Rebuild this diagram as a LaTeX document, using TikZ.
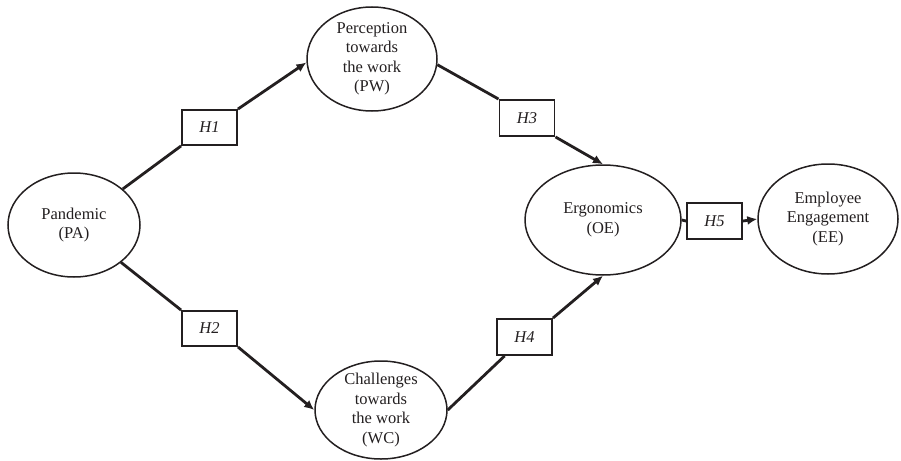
\documentclass[tikz,border=0pt]{standalone}
\usepackage{fontspec}
\setmainfont{Liberation Serif}
\usetikzlibrary{arrows.meta,shapes.geometric}
\definecolor{ink}{RGB}{35,31,32}
\tikzset{
  construct/.style={ellipse, draw=ink, line width=1.5pt, inner sep=-6pt, align=center,
    text=ink, font=\fontsize{16.5}{19.5}\selectfont},
  hbox/.style={rectangle, draw=ink, line width=1.9pt, fill=white, inner sep=0pt,
    minimum width=55pt, minimum height=36pt, text=ink, font=\fontsize{16.5}{19}\selectfont\itshape},
  link/.style={draw=ink, line width=2.8pt},
  arrowlink/.style={link, -{Latex[length=10pt,width=9pt]}}
}
\begin{document}
\begin{tikzpicture}[x=1pt,y=-1pt]
\useasboundingbox (0,0) rectangle (901,460);
\node[construct, minimum width=132pt, minimum height=104pt] (PA) at (74,225) {Pandemic\\(PA)};
\node[construct, minimum width=130pt, minimum height=104pt] (PW) at (372,59) {Perception\\towards\\the work\\(PW)};
\node[construct, minimum width=132pt, minimum height=98pt] (WC) at (381,410) {Challenges\\towards\\the work\\(WC)};
\node[construct, minimum width=156pt, minimum height=110pt] (OE) at (603,220) {Ergonomics\\(OE)};
\node[construct, minimum width=140pt, minimum height=110pt] (EE) at (828,219) {Employee\\Engagement\\(EE)};

\node[hbox, minimum height=35pt] (H1) at (209.5,127.5) {H1};
\node[hbox, minimum height=35pt] (H2) at (209.5,328.5) {H2};
\node[hbox] (H3) at (527,118) {H3};
\node[hbox] (H4) at (524.5,337) {H4};
\node[hbox] (H5) at (714.5,221) {H5};

\draw[link] (PA) -- (H1.south west);
\draw[arrowlink] (H1.north east) -- (PW.183);
\draw[link] (PW.355) -- (H3.north west);
\draw[arrowlink] (H3.south east) -- (OE.north);
\draw[link] (PA) -- (H2.north west);
\draw[arrowlink] (H2.south east) -- (WC.west);
\draw[link] (WC.east) -- (H4);
\draw[arrowlink] (H4.north east) -- (OE.south);
\draw[link] (OE.east) -- (H5.west);
\draw[arrowlink] (H5.east) -- (EE.west);
\end{tikzpicture}
\end{document}
